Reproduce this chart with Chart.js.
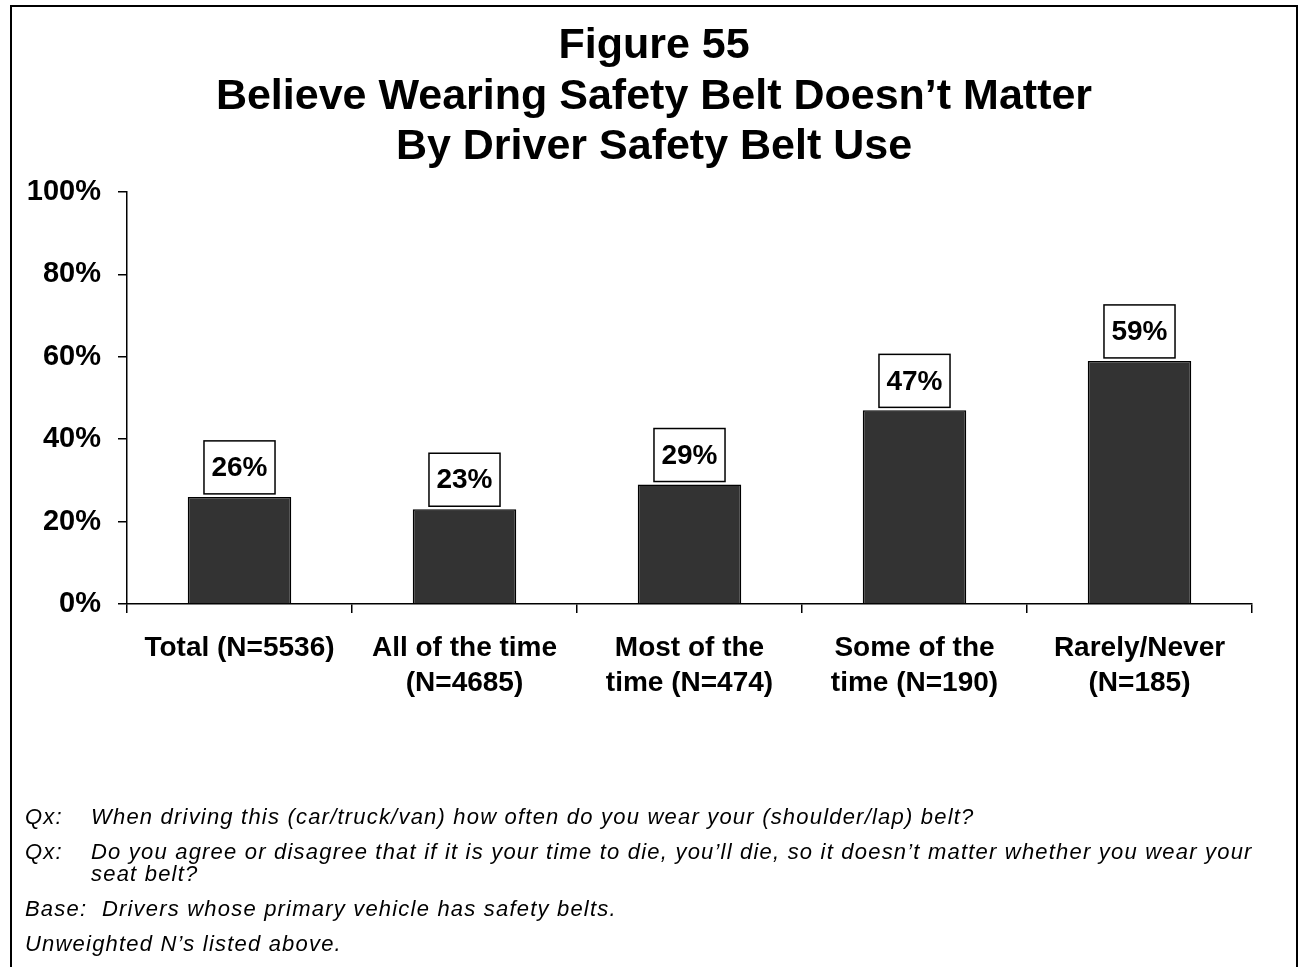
<!DOCTYPE html>
<html>
<head>
<meta charset="utf-8">
<script src="https://cdn.jsdelivr.net/npm/chart.js@4/dist/chart.umd.min.js"></script>
<style>
  html, body { margin: 0; padding: 0; background: #fff; }
  body { width: 1299px; height: 967px; position: relative; overflow: hidden; font-family: 'Liberation Sans', Arial, sans-serif; }
  #frame { position: absolute; left: 10px; top: 5px; width: 1288px; height: 1000px; border: 2px solid #000; box-sizing: border-box; }
  #wrap { position: absolute; left: 0; top: 0; width: 1299px; height: 967px; }
  .note { position: absolute; font-style: italic; font-size: 22px; letter-spacing: 1.2px; line-height: 22px; color: #000; white-space: nowrap; }
  .lab { position: absolute; left: 25px; }
  .txt { position: absolute; left: 91px; }
</style>
</head>
<body>
<div id="frame"></div>
<div id="wrap"><canvas id="chart" width="1299" height="967"></canvas></div>

<div class="note" style="top:806px; left:0;"><span class="lab">Qx:</span><span class="txt">When driving this (car/truck/van) how often do you wear your (shoulder/lap) belt?</span></div>
<div class="note" style="top:841px; left:0;"><span class="lab">Qx:</span><span class="txt">Do you agree or disagree that if it is your time to die, you’ll die, so it doesn’t matter whether you wear your<br>seat belt?</span></div>
<div class="note" style="top:898px; left:25px;">Base:&nbsp; Drivers whose primary vehicle has safety belts.</div>
<div class="note" style="top:933px; left:25px;">Unweighted N’s listed above.</div>

<script>
const titleLines = ['Figure 55', 'Believe Wearing Safety Belt Doesn’t Matter', 'By Driver Safety Belt Use'];
const categories = [
  ['Total (N=5536)'],
  ['All of the time', '(N=4685)'],
  ['Most of the', 'time (N=474)'],
  ['Some of the', 'time (N=190)'],
  ['Rarely/Never', '(N=185)']
];
const values = [26, 23, 29, 47, 59];
const yTicks = [0, 20, 40, 60, 80, 100];

const FONT = "'Liberation Sans', Arial, sans-serif";

// title centred on the outer frame rather than on the plot box
const frameTitle = {
  id: 'frameTitle',
  afterDraw(chart) {
    const ctx = chart.ctx;
    ctx.save();
    ctx.font = 'bold 43px ' + FONT;
    ctx.fillStyle = '#000';
    ctx.textAlign = 'center';
    ctx.textBaseline = 'alphabetic';
    titleLines.forEach((line, i) => ctx.fillText(line, 654, 58 + i * 50.5));
    ctx.restore();
  }
};

// boxed value labels above each bar
const boxLabels = {
  id: 'boxLabels',
  afterDatasetsDraw(chart) {
    const ctx = chart.ctx;
    const meta = chart.getDatasetMeta(0);
    ctx.save();
    ctx.font = 'bold 28px ' + FONT;
    ctx.textAlign = 'center';
    ctx.textBaseline = 'middle';
    meta.data.forEach((bar, i) => {
      const text = values[i] + '%';
      const w = ctx.measureText(text).width + 15;
      const h = 53;
      const x = bar.x - w / 2;
      const y = bar.y - 3 - h;
      ctx.fillStyle = '#fff';
      ctx.fillRect(x, y, w, h);
      ctx.lineWidth = 1.5;
      ctx.strokeStyle = '#000';
      ctx.strokeRect(x, y, w, h);
      ctx.fillStyle = '#000';
      ctx.fillText(text, bar.x, y + h / 2 + 1);
    });
    ctx.restore();
  }
};

new Chart(document.getElementById('chart').getContext('2d'), {
  type: 'bar',
  data: {
    labels: categories,
    datasets: [{
      data: values,
      backgroundColor: '#333333',
      borderColor: '#000',
      borderWidth: 1.5,
      barPercentage: 0.46,
      categoryPercentage: 1
    }]
  },
  options: {
    responsive: false,
    animation: false,
    layout: { padding: { left: 0, right: 47, top: 192, bottom: 203 } },
    plugins: {
      legend: { display: false },
      tooltip: { enabled: false },
      title: { display: false }
    },
    scales: {
      x: {
        offset: true,
        grid: { offset: true, drawOnChartArea: false, drawTicks: true, tickLength: 9, color: '#000', lineWidth: 1.5 },
        border: { display: true, color: '#000', width: 1.5 },
        ticks: {
          color: '#000',
          padding: 18,
          maxRotation: 0,
          autoSkip: false,
          font: { family: FONT, size: 28, weight: 'bold', lineHeight: 1.25 }
        },
        afterFit(scale) { scale.height = 160; }
      },
      y: {
        min: 0,
        max: 100,
        afterBuildTicks(scale) { scale.ticks = yTicks.map(v => ({ value: v })); },
        grid: { drawOnChartArea: false, drawTicks: true, tickLength: 9, color: '#000', lineWidth: 1.5 },
        border: { display: true, color: '#000', width: 1.5 },
        ticks: {
          color: '#000',
          padding: 17,
          font: { family: FONT, size: 29, weight: 'bold' },
          callback: v => v + '%'
        },
        afterFit(scale) { scale.width = 127; }
      }
    }
  },
  plugins: [boxLabels, frameTitle]
});
</script>
</body>
</html>
